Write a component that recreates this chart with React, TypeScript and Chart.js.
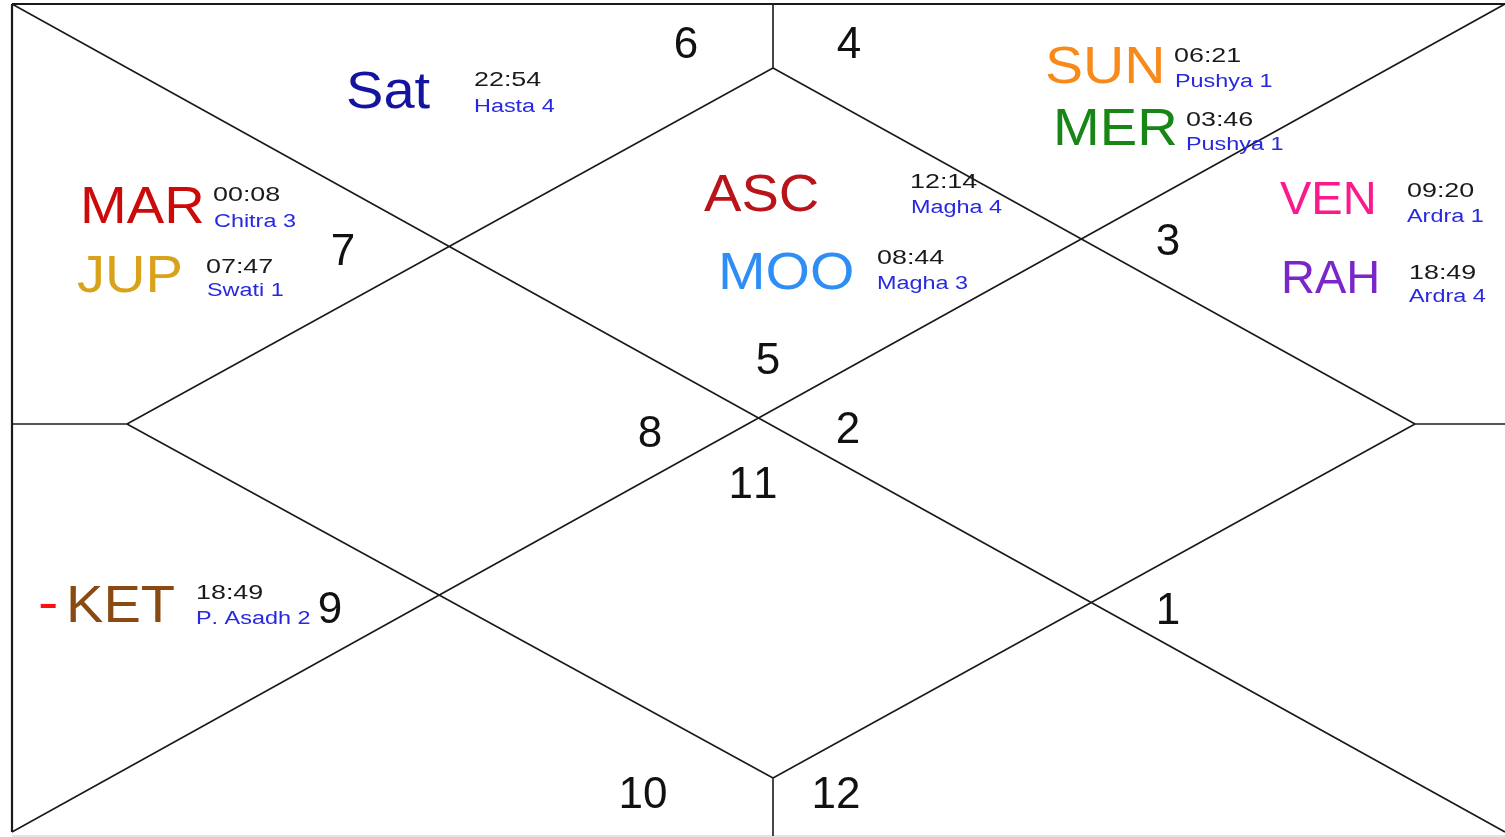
import React, { useEffect, useRef } from "react";
import { Chart, registerables } from "chart.js";

Chart.register(...registerables);

// ---- data ----
const planets = ["Sat", "MAR", "JUP", "ASC", "MOO", "SUN", "MER", "VEN", "RAH", "KET"];
const degrees = ["22:54", "00:08", "07:47", "12:14", "08:44", "06:21", "03:46", "09:20", "18:49", "18:49"];
const nakshatras = ["Hasta 4", "Chitra 3", "Swati 1", "Magha 4", "Magha 3", "Pushya 1", "Pushya 1", "Ardra 1", "Ardra 4", "P. Asadh 2"];
const retroFlags = [false, false, false, false, false, false, false, false, false, true];
const houseNumbers = ["6", "4", "7", "3", "5", "8", "2", "11", "9", "1", "10", "12"];

// ---- chart geometry (data space = 1505 x 837) ----
const outerLines: number[][] = [
  [12, 4, 1505, 4],
  [12, 4, 12, 832],
];
const bottomLine: number[][] = [[12, 836, 1505, 836]];
const innerLines: number[][] = [
  [12, 4, 1505, 832],
  [12, 832, 1505, 4],
  [773, 4, 773, 68],
  [773, 778, 773, 836],
  [12, 424, 127, 424],
  [1415, 424, 1505, 424],
  [773, 68, 127, 424],
  [127, 424, 773, 778],
  [773, 778, 1415, 424],
  [1415, 424, 773, 68],
];

// ---- layout / style ----
const planetColors = ["#1414a0", "#cc0a0a", "#d8a31a", "#b8141a", "#2e8ef5", "#f88a1c", "#178617", "#fa1a8c", "#7a26c8", "#8a4a12"];
const planetSizes = [51, 51, 51, 51, 51, 51, 51, 47, 47, 51];
const planetScaleX = [1.1, 1.1, 1.1, 1.1, 1.12, 1.12, 1.1, 1.0, 1.0, 1.1];
const planetPos = [
  [346, 108], [80, 223], [77, 292], [704, 211], [718, 289],
  [1045, 83], [1053, 145], [1280, 214], [1281, 293], [66, 622],
];
const degreePos = [
  [474, 86], [213, 201], [206, 273], [910, 188], [877, 264],
  [1174, 62], [1186, 126], [1407, 197], [1409, 279], [196, 599],
];
const nakPos = [
  [474, 112], [214, 227], [207, 296], [911, 213], [877, 289],
  [1175, 87], [1186, 150], [1407, 222], [1409, 302], [196, 624],
];
const housePos = [
  [686, 58], [849, 58], [343, 265], [1168, 255], [768, 374], [650, 447],
  [848, 443], [753, 498], [330, 623], [1168, 624], [643, 808], [836, 808],
];

const FONT = '"Liberation Sans", Arial, sans-serif';

function segDataset(lines: number[][], width: number, color: string) {
  const data: any[] = [];
  lines.forEach((l, i) => {
    if (i > 0) data.push({ x: null, y: null });
    data.push({ x: l[0], y: l[1] });
    data.push({ x: l[2], y: l[3] });
  });
  return {
    data,
    showLine: true,
    spanGaps: false,
    borderColor: color,
    borderWidth: width,
    pointRadius: 0,
    pointHoverRadius: 0,
    clip: false as any,
  };
}

const textPlugin = {
  id: "chartText",
  afterDatasetsDraw(chart: any) {
    const ctx: any = chart.ctx;
    const xs = chart.scales.x;
    const ys = chart.scales.y;
    const draw = (t: string, x: number, y: number, size: number, color: string, sx: number, align: CanvasTextAlign = "left") => {
      ctx.save();
      ctx.translate(xs.getPixelForValue(x), ys.getPixelForValue(y));
      ctx.scale(sx, 1);
      ctx.font = `${size}px ${FONT}`;
      if ("fontKerning" in ctx) ctx.fontKerning = "none";
      ctx.fillStyle = color;
      ctx.textAlign = align;
      ctx.textBaseline = "alphabetic";
      ctx.fillText(t, 0, 0);
      ctx.restore();
    };
    houseNumbers.forEach((h, i) => draw(h, housePos[i][0], housePos[i][1], 44, "#111", 1.0, "center"));
    planets.forEach((p, i) => {
      draw(p, planetPos[i][0], planetPos[i][1], planetSizes[i], planetColors[i], planetScaleX[i]);
      if (retroFlags[i]) draw("-", planetPos[i][0] - 28, planetPos[i][1] - 2, 51, "#ff1010", 1.2);
      draw(degrees[i], degreePos[i][0], degreePos[i][1], 21, "#1a1a1a", 1.28);
      draw(nakshatras[i], nakPos[i][0], nakPos[i][1], 18, "#2828e0", 1.3);
    });
  },
};

export default function App() {
  const ref = useRef<HTMLCanvasElement>(null);
  useEffect(() => {
    document.body.style.margin = "0";
    const chart = new Chart(ref.current!, {
      type: "scatter",
      data: {
        datasets: [
          segDataset(innerLines, 1.6, "#1a1a1a"),
          segDataset(outerLines, 2.2, "#1a1a1a"),
          segDataset(bottomLine, 1.2, "#c8c8c8"),
        ] as any,
      },
      options: {
        animation: false,
        responsive: false,
        maintainAspectRatio: false,
        layout: { padding: 0 },
        plugins: { legend: { display: false }, tooltip: { enabled: false } },
        events: [],
        scales: {
          x: { type: "linear", min: 0, max: 1505, display: false },
          y: { type: "linear", min: 0, max: 837, reverse: true, display: false },
        },
      },
      plugins: [textPlugin],
    });
    return () => chart.destroy();
  }, []);
  return (
    <div style={{ width: 1505, height: 837, background: "#fff" }}>
      <canvas ref={ref} width={1505} height={837} style={{ display: "block" }} />
    </div>
  );
}
